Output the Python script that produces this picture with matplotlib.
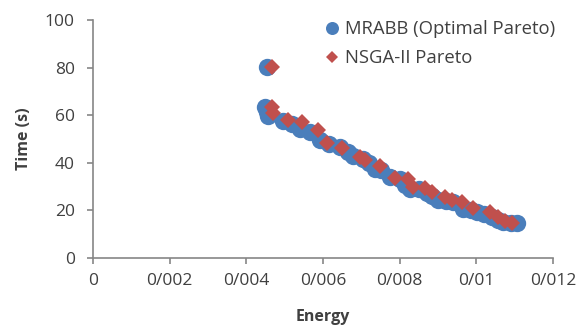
import numpy as np
import matplotlib.pyplot as plt

plt.rcParams['font.family'] = ['Open Sans', 'DejaVu Sans']

# MRABB (Optimal Pareto)
mrabb_energy = [0.00454, 0.00449, 0.00455, 0.00457, 0.00496, 0.00520, 0.00540,
                0.00565, 0.00592, 0.00615, 0.00644, 0.00665, 0.00678, 0.00705,
                0.00720, 0.00736, 0.00750, 0.00775, 0.00800, 0.00815, 0.00827,
                0.00850, 0.00870, 0.00885, 0.00900, 0.00920, 0.00940, 0.00965,
                0.00985, 0.01002, 0.01020, 0.01040, 0.01055, 0.01070, 0.01090,
                0.01106]
mrabb_time = [80.3, 63.5, 61.5, 59.5, 57.5, 56.5, 54.0, 53.0, 49.5, 48.0, 46.5,
              44.5, 43.0, 41.5, 40.0, 37.5, 37.0, 34.0, 33.0, 30.5, 29.0, 29.0,
              27.5, 26.0, 24.5, 24.0, 23.5, 20.5, 20.0, 19.5, 18.5, 17.0, 16.0,
              15.0, 14.5, 14.5]

# NSGA-II Pareto
nsga_energy = [0.00468, 0.00467, 0.00470, 0.00509, 0.00545, 0.00587, 0.00610,
               0.00650, 0.00697, 0.00710, 0.00749, 0.00788, 0.00822, 0.00835,
               0.00866, 0.00884, 0.00918, 0.00937, 0.00963, 0.00991, 0.01036,
               0.01057, 0.01075, 0.01093]
nsga_time = [80.3, 63.5, 61.0, 58.0, 57.0, 53.8, 48.3, 46.2, 42.5, 41.0, 38.5,
             33.8, 33.0, 30.0, 29.5, 27.8, 25.6, 24.4, 23.5, 21.2, 19.5, 17.0,
             15.5, 14.7]

x_ticks = [0, 0.002, 0.004, 0.006, 0.008, 0.010, 0.012]
x_tick_labels = ['0', '0/002', '0/004', '0/006', '0/008', '0/01', '0/012']
y_ticks = [0, 20, 40, 60, 80, 100]

blue = '#4A7EBB'
red = '#C0504D'
gray = '#868686'
txt = '#404040'

fig = plt.figure(figsize=(5.81, 3.29), dpi=100)
ax = fig.add_axes([0.160, 0.216, 0.792, 0.723])

ax.plot(mrabb_energy, mrabb_time, 'o', color=blue, markersize=12.5,
        markeredgewidth=0, label='MRABB (Optimal Pareto)')
ax.plot(nsga_energy, nsga_time, 'D', color=red, markersize=8.5,
        markeredgewidth=0, label='NSGA-II Pareto')

ax.set_xlim(0, 0.012)
ax.set_ylim(0, 100)
ax.set_xticks(x_ticks)
ax.set_xticklabels(x_tick_labels)
ax.set_yticks(y_ticks)

for s in ['top', 'right']:
    ax.spines[s].set_visible(False)
for s in ['left', 'bottom']:
    ax.spines[s].set_color(gray)
    ax.spines[s].set_linewidth(1.2)
ax.tick_params(colors=gray, labelcolor=txt, labelsize=12.5, length=4, width=1.2)
ax.tick_params(axis='x', pad=7)
ax.tick_params(axis='y', pad=9)

ax.set_xlabel('Energy', fontsize=11.5, fontweight='bold', color=txt, labelpad=14)
ax.set_ylabel('Time (s)', fontsize=11.5, fontweight='bold', color=txt, labelpad=9)

ax.legend(loc='upper left', bbox_to_anchor=(0.50, 1.0), frameon=False,
          borderaxespad=0, borderpad=0,
          fontsize=13.3, handletextpad=0.2, handlelength=1.0, labelspacing=0.6,
          markerscale=0.75, labelcolor=txt)

fig.savefig('out.png', dpi=100)
